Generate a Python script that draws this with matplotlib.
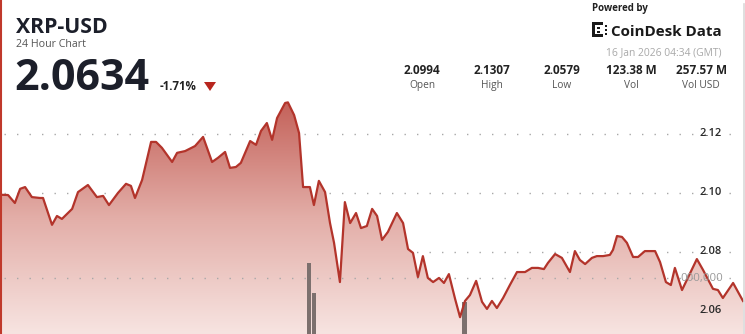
import matplotlib
matplotlib.use("Agg")
import matplotlib.pyplot as plt
import numpy as np
from matplotlib.colors import LinearSegmentedColormap
from matplotlib.patches import Polygon, Rectangle
from matplotlib.transforms import blended_transform_factory

W, H = 745, 334

# 24h price series (hours since start, price in USD)
hours = [0.00, 0.26, 0.48, 0.65, 0.81, 1.03, 1.29, 1.39, 1.68, 1.84,
         2.00, 2.33, 2.52, 2.84, 3.13, 3.33, 3.52, 3.81, 4.07, 4.23,
         4.36, 4.59, 4.88, 5.04, 5.23, 5.56, 5.72, 5.98, 6.30, 6.56,
         6.85, 7.04, 7.27, 7.43, 7.62, 7.78, 8.08, 8.27, 8.43, 8.62,
         8.79, 8.95, 9.21, 9.30, 9.50, 9.66, 9.79, 10.01, 10.14, 10.30,
         10.50, 10.66, 10.79, 10.98, 11.14, 11.31, 11.50, 11.66, 11.85, 12.02,
         12.18, 12.34, 12.53, 12.82, 13.02, 13.18, 13.34, 13.50, 13.66, 13.82,
         13.99, 14.18, 14.34, 14.50, 14.70, 14.86, 15.02, 15.18, 15.38, 15.57,
         15.73, 15.89, 16.05, 16.25, 16.47, 16.70, 16.96, 17.18, 17.38, 17.57,
         17.70, 17.93, 18.15, 18.41, 18.57, 18.73, 18.90, 19.12, 19.28, 19.48,
         19.70, 19.80, 19.93, 20.09, 20.25, 20.45, 20.61, 20.83, 21.16, 21.32,
         21.51, 21.67, 21.80, 22.03, 22.51, 22.71, 23.03, 23.19, 23.35, 23.68,
         24.00]
prices = [2.0994, 2.0993, 2.0966, 2.1014, 2.1020, 2.0986, 2.0983, 2.0983, 2.0892, 2.0922,
          2.0912, 2.0946, 2.1003, 2.1027, 2.0986, 2.0990, 2.0959, 2.1000, 2.1031, 2.1024,
          2.0983, 2.1044, 2.1173, 2.1173, 2.1153, 2.1105, 2.1136, 2.1142, 2.1159, 2.1190,
          2.1105, 2.1119, 2.1139, 2.1085, 2.1088, 2.1102, 2.1176, 2.1163, 2.1210, 2.1237,
          2.1180, 2.1254, 2.1305, 2.1307, 2.1264, 2.1203, 2.1020, 2.1020, 2.0959, 2.1041,
          2.1003, 2.0898, 2.0831, 2.0698, 2.0969, 2.0898, 2.0932, 2.0881, 2.0888, 2.0946,
          2.0922, 2.0841, 2.0868, 2.0932, 2.0898, 2.0810, 2.0797, 2.0715, 2.0786, 2.0712,
          2.0698, 2.0712, 2.0695, 2.0725, 2.0641, 2.0579, 2.0634, 2.0654, 2.0702, 2.0631,
          2.0607, 2.0634, 2.0610, 2.0644, 2.0688, 2.0732, 2.0732, 2.0746, 2.0746, 2.0742,
          2.0763, 2.0793, 2.0780, 2.0732, 2.0803, 2.0773, 2.0759, 2.0780, 2.0786, 2.0786,
          2.0790, 2.0807, 2.0854, 2.0851, 2.0831, 2.0783, 2.0783, 2.0803, 2.0803, 2.0766,
          2.0698, 2.0688, 2.0746, 2.0671, 2.0776, 2.0739, 2.0675, 2.0671, 2.0644, 2.0695,
          2.0634]

vol_hours = [9.98, 10.14, 15.00]
volumes = [1270000, 730000, 570000]

grid_prices = [2.06, 2.08, 2.10, 2.12]
grid_labels = ["2.06", "2.08", "2.10", "2.12"]
vol_grid = 1000000
vol_grid_label = "000,000"

stat_values = ["2.0994", "2.1307", "2.0579", "123.38 M", "257.57 M"]
stat_names = ["Open", "High", "Low", "Vol", "Vol USD"]
stat_x = [422, 492, 562, 631, 701]

plt.rcParams['font.family'] = ['Open Sans', 'DejaVu Sans']

LINE = '#b3342b'
DARK = '#1c1f2a'


def fx(x):
    return x / W


def fy(y):
    return 1 - y / H


fig = plt.figure(figsize=(W / 100, H / 100), dpi=100)
fig.patch.set_facecolor('white')

# price axes
ax = fig.add_axes([0, 0, 1, 1])
ax.set_xlim(0, 24 * W / 743)
ax.set_ylim(2.0522, 2.1654)
ax.axis('off')

for g in grid_prices:
    ax.axhline(g, xmin=fx(4), xmax=fx(740), color='#a8a8a8', lw=1.0,
               ls=(0, (1, 8)), zorder=1)

# gradient area under the line
cmap = LinearSegmentedColormap.from_list('xrp', ['#f7e4e1', '#e3aea8', '#c4625a'])
grad = np.linspace(0, 1, 256).reshape(-1, 1)
im = ax.imshow(grad, extent=[0, 24, 2.0522, max(prices)], origin='lower',
               aspect='auto', cmap=cmap, zorder=2)
verts = [(hours[0], 2.0522)] + list(zip(hours, prices)) + [(hours[-1], 2.0522)]
area = Polygon(verts, closed=True, facecolor='none', edgecolor='none')
ax.add_patch(area)
im.set_clip_path(area)

trans = blended_transform_factory(ax.transAxes, ax.transData)
for g, lab in zip(grid_prices, grid_labels):
    ax.text(fx(700), g, lab, transform=trans, ha='left', va='center',
            fontsize=8, fontweight='semibold', color='#2a2a2a', zorder=6)

# volume axes on top
ax2 = fig.add_axes([0, 0, 1, 1])
ax2.patch.set_visible(False)
ax2.axis('off')
ax2.bar(vol_hours, volumes, width=0.15, color='#7c706e', zorder=3)
ax2.axhline(vol_grid, xmin=fx(4), xmax=fx(740), color='#a8a8a8', lw=1.0,
            ls=(0, (1, 8)), zorder=1)
ax2.text(fx(680), vol_grid, vol_grid_label,
         transform=blended_transform_factory(ax2.transAxes, ax2.transData),
         ha='left', va='center', fontsize=8.2, color='#9a9a9a', zorder=6)
ax2.plot(hours, prices, color=LINE, lw=1.6, transform=ax.transData, zorder=5,
         solid_joinstyle='round')
ax2.set_xlim(0, 24 * W / 743)
ax2.set_ylim(0, H / 56 * vol_grid)

# header
fig.text(fx(16), fy(33), "XRP-USD", fontsize=15.3, fontweight='bold', color=DARK)
fig.text(fx(16), fy(47), "24 Hour Chart", fontsize=7.7, color='#555555')
fig.text(fx(14), fy(90), "2.0634", fontsize=31, fontweight='bold', color=DARK)
fig.text(fx(160), fy(90), "-1.71%", fontsize=8.3, fontweight='bold', color='#222222')
fig.patches.append(Polygon([(fx(204), fy(82)), (fx(216), fy(82)), (fx(210), fy(91))],
                           closed=True, transform=fig.transFigure,
                           facecolor='#b8261e', edgecolor='none'))

fig.text(fx(592), fy(11), "Powered by", fontsize=7, fontweight='bold', color='#222222')
fig.text(fx(611), fy(36), "CoinDesk Data", fontsize=10.9, fontweight='bold', color='#1a1a1a')
for (x0, y0, w, h) in [(592, 22, 3, 15), (592, 22, 11, 3), (592, 34, 11, 3),
                       (597, 27, 3, 2), (597, 31, 3, 2),
                       (605, 25, 2, 2), (605, 29, 2, 2), (605, 33, 2, 2)]:
    fig.patches.append(Rectangle((fx(x0), fy(y0 + h)), w / W, h / H,
                                 transform=fig.transFigure, facecolor='#1a1a1a',
                                 edgecolor='none'))
fig.text(fx(722), fy(55), "16 Jan 2026 04:34 (GMT)", fontsize=7.4, color='#a8a8a8', ha='right')

for x, v, n in zip(stat_x, stat_values, stat_names):
    fig.text(fx(x), fy(74), v, fontsize=8.5, fontweight='bold', color='#222222', ha='center')
    fig.text(fx(x), fy(88), n, fontsize=7.3, color='#555555', ha='center')

# card borders
fig.add_artist(plt.Line2D([fx(1), fx(1)], [0, 1], transform=fig.transFigure,
                          color='#c0392b', lw=1.5))
fig.add_artist(plt.Line2D([fx(743.5), fx(743.5)], [0, fy(4)], transform=fig.transFigure,
                          color='#d9d9d9', lw=1.2))

fig.savefig('out.png', dpi=100)
